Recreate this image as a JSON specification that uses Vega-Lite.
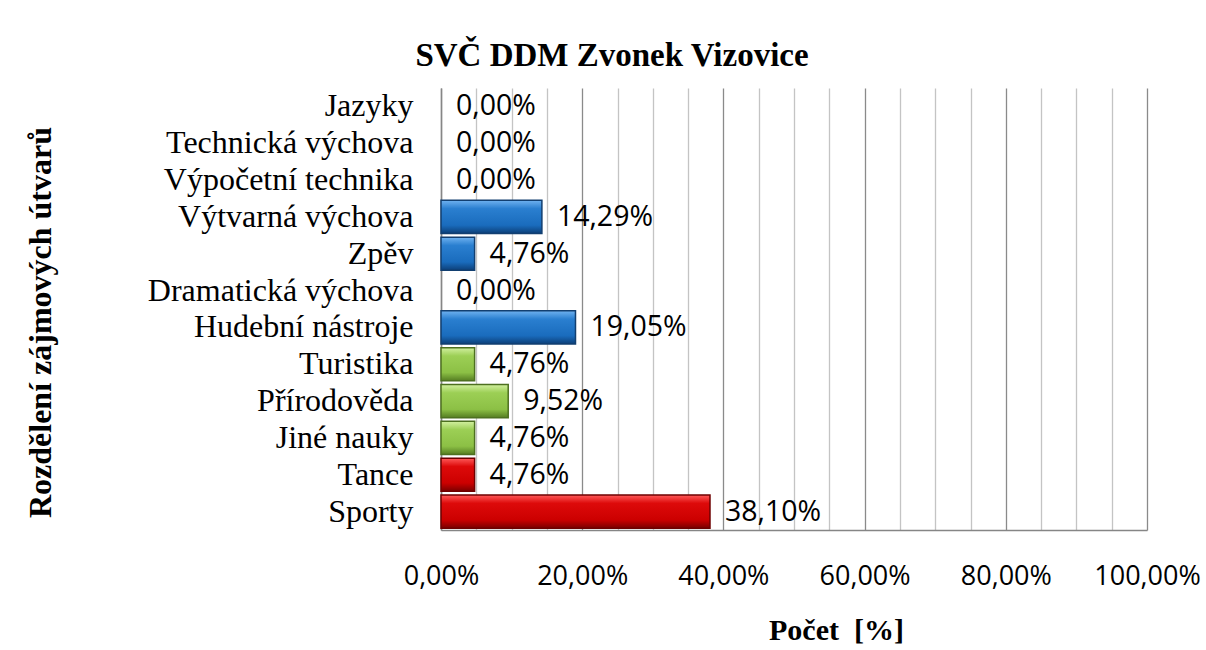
{
  "$schema": "https://vega.github.io/schema/vega-lite/v6.json",
  "autosize": {"type": "none"},
  "padding": {"left": 441, "top": 88, "right": 59, "bottom": 120},
  "width": 706,
  "height": 442,
  "background": "white",
  "title": {"text": "SVČ DDM Zvonek Vizovice", "font": "Liberation Serif", "fontSize": 33, "fontWeight": "bold", "color": "black", "dx": -182, "offset": 15},
  "data": {"values": [
    {"kategorie": "Jazyky", "podil": 0, "skupina": "blue"},
    {"kategorie": "Technická výchova", "podil": 0, "skupina": "blue"},
    {"kategorie": "Výpočetní technika", "podil": 0, "skupina": "blue"},
    {"kategorie": "Výtvarná výchova", "podil": 0.1429, "skupina": "blue"},
    {"kategorie": "Zpěv", "podil": 0.0476, "skupina": "blue"},
    {"kategorie": "Dramatická výchova", "podil": 0, "skupina": "blue"},
    {"kategorie": "Hudební nástroje", "podil": 0.1905, "skupina": "blue"},
    {"kategorie": "Turistika", "podil": 0.0476, "skupina": "green"},
    {"kategorie": "Přírodověda", "podil": 0.0952, "skupina": "green"},
    {"kategorie": "Jiné nauky", "podil": 0.0476, "skupina": "green"},
    {"kategorie": "Tance", "podil": 0.0476, "skupina": "red"},
    {"kategorie": "Sporty", "podil": 0.381, "skupina": "red"}
  ]},
  "encoding": {
    "y": {"field": "kategorie", "type": "nominal",
      "sort": ["Jazyky", "Technická výchova", "Výpočetní technika", "Výtvarná výchova", "Zpěv", "Dramatická výchova", "Hudební nástroje", "Turistika", "Přírodověda", "Jiné nauky", "Tance", "Sporty"],
      "scale": {"paddingInner": 0.1, "paddingOuter": 0.05},
      "axis": {"title": "Rozdělení zájmových útvarů", "titleFont": "Liberation Serif", "titleFontSize": 32, "titleFontWeight": "bold", "titleColor": "black",
        "titleAngle": -90, "titleX": -401, "titleY": 234, "titleAlign": "center", "titleBaseline": "middle",
        "labelFont": "Liberation Serif", "labelFontSize": 32, "labelColor": "black", "labelPadding": 28, "ticks": false,
        "domainColor": "#868686", "domainWidth": 1.5, "labelLimit": 400}},
    "x": {"field": "podil", "type": "quantitative",
      "scale": {"domain": [0, 1], "nice": false},
      "axis": {"title": "Počet\u00a0 [%]", "titleFont": "Liberation Serif", "titleFontSize": 30, "titleFontWeight": "bold", "titleColor": "black",
        "titleX": 395, "titleY": 100, "titleAlign": "center", "titleBaseline": "middle",
        "values": [0, 0.05, 0.1, 0.15, 0.2, 0.25, 0.3, 0.35, 0.4, 0.45, 0.5, 0.55, 0.6, 0.65, 0.7, 0.75, 0.8, 0.85, 0.9, 0.95, 1],
        "format": ".2%",
        "labelExpr": "abs(datum.value*5 - round(datum.value*5)) < 0.001 ? datum.label : ''",
        "labelFont": "Open Sans", "labelFontSize": 27, "labelColor": "black", "labelPadding": 33, "ticks": false,
        "labelFlush": false, "labelOverlap": false,
        "domainColor": "#868686", "domainWidth": 1.5,
        "grid": true,
        "gridColor": {"condition": {"test": "abs(datum.value*5 - round(datum.value*5)) < 0.001", "value": "#8a8a8a"}, "value": "#c4c4c4"},
        "gridWidth": 1.3}}
  },
  "layer": [
    {"transform": [{"filter": "datum.skupina == 'blue' && datum.podil > 0"}],
     "mark": {"type": "bar", "stroke": "#123f70", "strokeWidth": 1.5,
       "color": {"gradient": "linear", "x1": 0, "y1": 0, "x2": 0, "y2": 1, "stops": [
         {"offset": 0, "color": "#6fb2f0"}, {"offset": 0.25, "color": "#2a7fd0"}, {"offset": 0.75, "color": "#1a6cbd"}, {"offset": 1, "color": "#0c3f78"}]}}},
    {"transform": [{"filter": "datum.skupina == 'green' && datum.podil > 0"}],
     "mark": {"type": "bar", "stroke": "#4d7020", "strokeWidth": 1.5,
       "color": {"gradient": "linear", "x1": 0, "y1": 0, "x2": 0, "y2": 1, "stops": [
         {"offset": 0, "color": "#d2f0a0"}, {"offset": 0.25, "color": "#9ccf55"}, {"offset": 0.75, "color": "#8cc045"}, {"offset": 1, "color": "#557d22"}]}}},
    {"transform": [{"filter": "datum.skupina == 'red' && datum.podil > 0"}],
     "mark": {"type": "bar", "stroke": "#6e0000", "strokeWidth": 1.5,
       "color": {"gradient": "linear", "x1": 0, "y1": 0, "x2": 0, "y2": 1, "stops": [
         {"offset": 0, "color": "#ff5a5a"}, {"offset": 0.25, "color": "#dd0a0a"}, {"offset": 0.75, "color": "#cc0000"}, {"offset": 1, "color": "#7a0000"}]}}},
    {"mark": {"type": "text", "align": "left", "baseline": "middle", "dx": 15, "font": "Open Sans", "fontSize": 28.5, "color": "black"},
     "encoding": {"text": {"field": "podil", "type": "quantitative", "format": ".2%"}}}
  ],
  "config": {
    "view": {"stroke": null},
    "locale": {"number": {"decimal": ",", "thousands": " ", "grouping": [3], "currency": ["", " Kč"]}}
  }
}
